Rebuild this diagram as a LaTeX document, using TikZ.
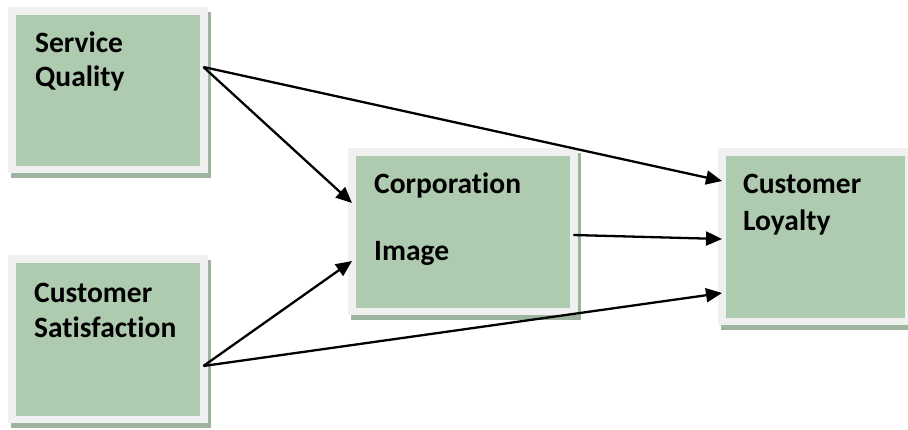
\documentclass[tikz,border=0pt]{standalone}
\usepackage{fontspec}
\setmainfont{Carlito}[Ligatures=CommonOff]
\usetikzlibrary{arrows.meta,shadows}

\definecolor{boxgreen}{RGB}{174,203,176}
\definecolor{boxrim}{RGB}{240,240,240}
\definecolor{boxshadow}{RGB}{158,180,158}

\tikzset{
  factor/.style={
    rectangle, anchor=north west, inner sep=0pt, fill=boxrim,
    drop shadow={shadow xshift=3pt, shadow yshift=-5pt, fill=boxshadow, opacity=1},
    path picture={\fill[boxgreen]
      ([shift={(8pt,-8pt)}]path picture bounding box.north west) rectangle
      ([shift={(-8pt,7pt)}]path picture bounding box.south east);}
  },
  label/.style={anchor=base west, inner sep=0pt, font=\fontsize{29.5}{31}\selectfont\bfseries},
  link/.style={line width=2.3pt, -{Triangle[length=16pt,width=14pt]}}
}

\begin{document}
\begin{tikzpicture}[x=1pt,y=-1pt]
  \useasboundingbox (0,0) rectangle (908,429);

  % factor boxes
  \node[factor, minimum width=200pt, minimum height=166pt] (sq) at (8,7) {};
  \node[factor, minimum width=200pt, minimum height=168pt] (cs) at (8,255) {};
  \node[factor, minimum width=230pt, minimum height=167pt] (ci) at (348,148) {};
  \node[factor, minimum width=195pt, minimum height=177pt] (cl) at (718,148) {};

  % box captions
  \node[label] (sq1) at (35,52) {Service};
  \node[label] (sq2) at (35,86) {Quality};
  \node[label] (cs1) at (34,302) {Customer};
  \node[label] (cs2) at (34,337) {Satisfaction};
  \node[label] (ci1) at (374,193) {Corporation};
  \node[label] (ci2) at (374,260) {Image};
  \node[label] (cl1) at (743,193) {Customer};
  \node[label] (cl2) at (743,230) {Loyalty};

  % causal links
  \draw[link] ([shift={(-5,60)}]sq.north east) -- ([shift={(4,55)}]ci.north west);
  \draw[link] ([shift={(-5,60)}]sq.north east) -- ([shift={(4,33)}]cl.north west);
  \draw[link] ([shift={(-5,111)}]cs.north east) -- ([shift={(4,113)}]ci.north west);
  \draw[link] ([shift={(-5,111)}]cs.north east) -- ([shift={(4,145)}]cl.north west);
  \draw[link] ([shift={(-5,87)}]ci.north east) -- ([shift={(4,91)}]cl.north west);
\end{tikzpicture}
\end{document}
